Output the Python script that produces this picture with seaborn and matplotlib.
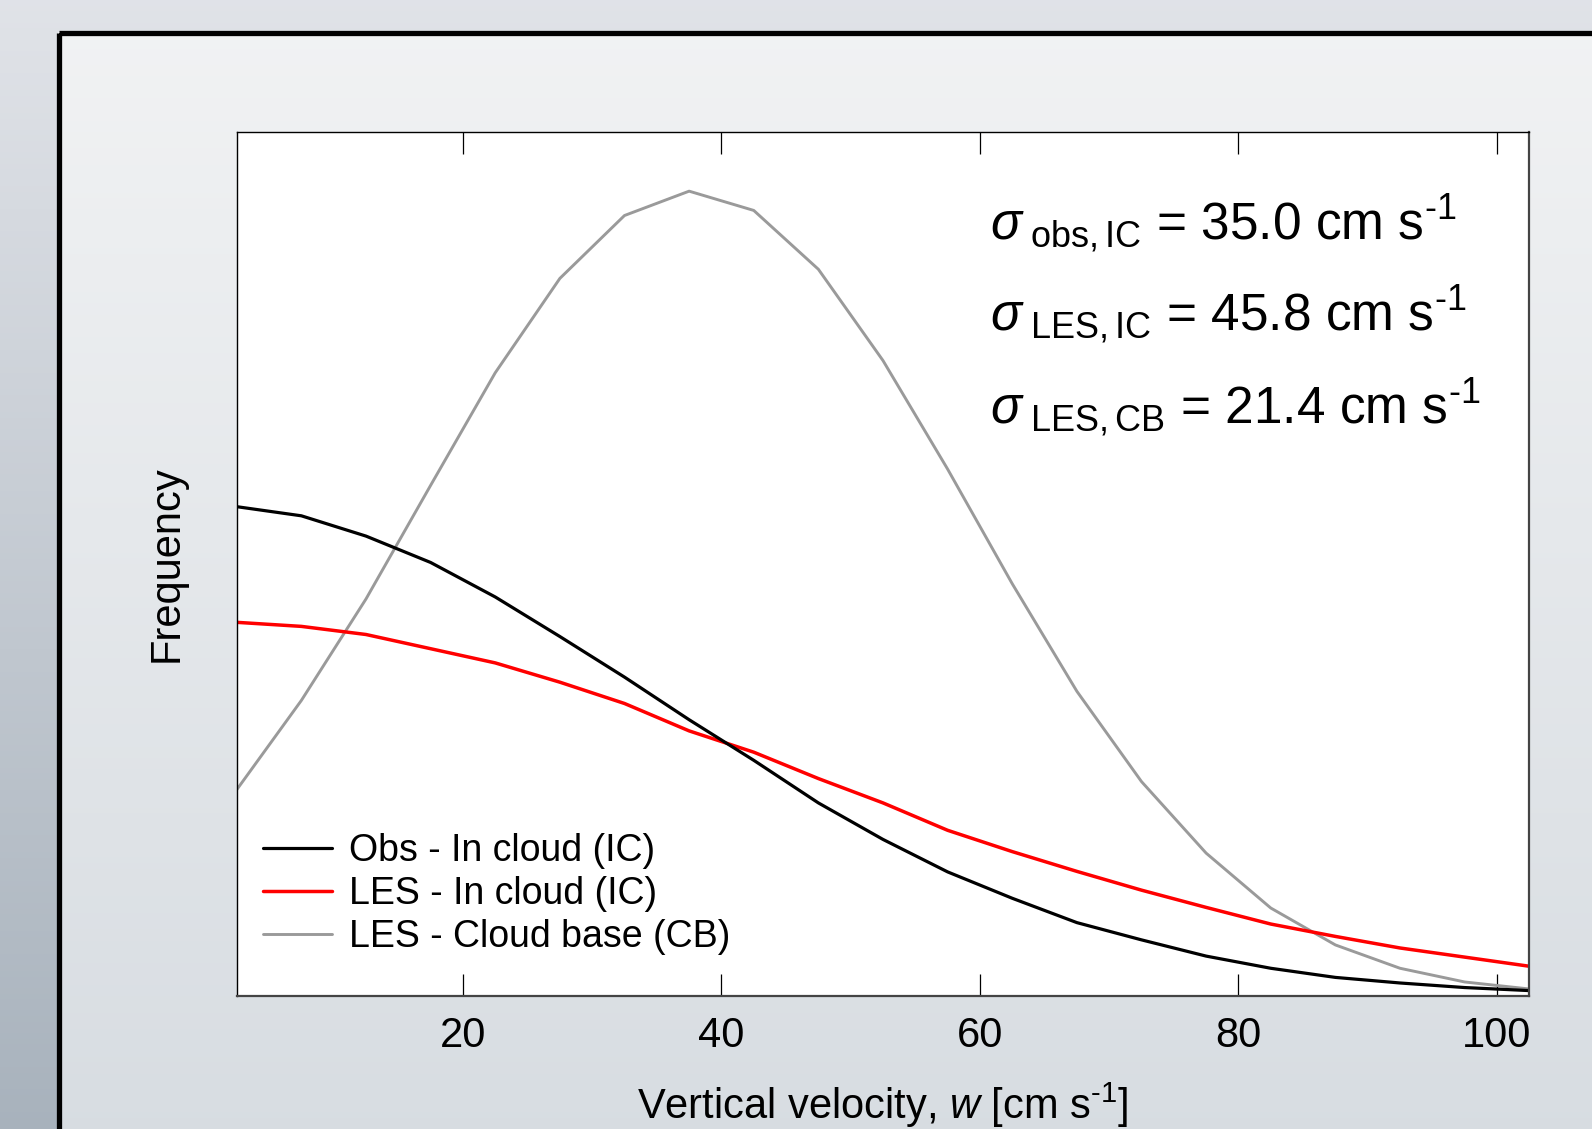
import numpy as np
import pandas as pd
import matplotlib.pyplot as plt
import seaborn as sns
from matplotlib.patches import Rectangle

# Bin centres of vertical velocity [cm s-1]
w_bins = [2.5, 7.5, 12.5, 17.5, 22.5, 27.5, 32.5, 37.5, 42.5, 47.5, 52.5,
          57.5, 62.5, 67.5, 72.5, 77.5, 82.5, 87.5, 92.5, 97.5, 102.5]

# Frequency (arbitrary units)
obs_ic = [482, 473, 453, 427, 393, 354, 314, 272, 232, 190, 154,
          122, 96, 72, 55, 39, 27, 18, 12.5, 8, 5]
les_ic = [368, 364, 356, 342, 328, 309, 288, 261, 240, 214, 190,
          163, 142, 122.5, 104, 87, 70.6, 58.4, 47, 38, 29]
les_cb = [203, 291, 391, 503, 614, 707, 769, 793, 774, 716, 626,
          519, 406, 300, 211, 140.5, 86.4, 50, 27, 13.5, 6.6]

labels = ['Obs - In cloud (IC)', 'LES - In cloud (IC)', 'LES - Cloud base (CB)']
sigma_text = [r'$\mathit{\sigma}_{\ \mathrm{obs,IC}}$ = 35.0 cm s$^{\text{-1}}$',
              r'$\mathit{\sigma}_{\ \mathrm{LES,IC}}$ = 45.8 cm s$^{\text{-1}}$',
              r'$\mathit{\sigma}_{\ \mathrm{LES,CB}}$ = 21.4 cm s$^{\text{-1}}$']
xticks = [20, 40, 60, 80, 100]

df = pd.DataFrame({'w': w_bins * 3,
                   'freq': obs_ic + les_ic + les_cb,
                   'series': [labels[0]] * len(w_bins) + [labels[1]] * len(w_bins) + [labels[2]] * len(w_bins)})

sns.set_style('white')
plt.rcParams['font.family'] = ['Liberation Sans', 'DejaVu Sans']
plt.rcParams['mathtext.fontset'] = 'custom'
plt.rcParams['mathtext.rm'] = 'Liberation Sans'
plt.rcParams['mathtext.it'] = 'Liberation Sans:italic'
plt.rcParams['text.color'] = 'black'
plt.rcParams['axes.labelcolor'] = 'black'

fig = plt.figure(figsize=(15.92, 11.29), dpi=100)

# slide-like background
bg = fig.add_axes([0, 0, 1, 1], zorder=-10)
bg.axis('off')
t = np.linspace(0, 1, 200)[:, None]
outer_top = np.array([0.88, 0.89, 0.91])
outer_bot = np.array([0.66, 0.70, 0.74])
outer = outer_top + (outer_bot - outer_top) * t
outer = np.repeat(outer[:, None, :], 2, axis=1)
bg.imshow(outer, extent=(0, 1592, 1129, 0), aspect='auto')
inner_top = np.array([0.945, 0.950, 0.955])
inner_bot = np.array([0.845, 0.865, 0.885])
inner = inner_top + (inner_bot - inner_top) * t
inner = np.repeat(inner[:, None, :], 2, axis=1)
bg.imshow(inner, extent=(58, 1600, 1140, 32), aspect='auto')
bg.add_patch(Rectangle((58.5, 32.5), 1600, 1200, fill=False, ec='black', lw=3.8))
bg.set_xlim(0, 1592)
bg.set_ylim(1129, 0)

ax = fig.add_axes([0.1487, 0.1181, 0.8119, 0.7647])
ax.set_facecolor('white')

sns.lineplot(data=df[df.series == labels[2]], x='w', y='freq', color='#9a9a9a', lw=2.1, ax=ax, label=labels[2])
sns.lineplot(data=df[df.series == labels[1]], x='w', y='freq', color='#ff0000', lw=2.5, ax=ax, label=labels[1])
sns.lineplot(data=df[df.series == labels[0]], x='w', y='freq', color='black', lw=2.3, ax=ax, label=labels[0])

ax.set_xlim(2.5, 102.5)
ax.set_ylim(0, 851)
ax.set_xticks(xticks)
ax.set_xticklabels([str(v) for v in xticks])
ax.set_yticks([])
ax.tick_params(axis='x', direction='in', length=16, width=0.9, top=True, bottom=True,
               labelsize=30, pad=15, colors='black')
for s in ax.spines.values():
    s.set_visible(True)
    s.set_color('black')
    s.set_linewidth(1.0)
ax.spines['right'].set_color('#444444')
ax.spines['bottom'].set_color('#444444')
ax.spines['right'].set_linewidth(1.6)
ax.spines['bottom'].set_linewidth(1.6)

ax.set_xlabel(r'Vertical velocity, $\mathit{w}$ [cm s$^{\text{-1}}$]', fontsize=30, labelpad=17)
ax.set_ylabel('Frequency', fontsize=30, labelpad=36)

for txt, yy in zip(sigma_text, [0.876, 0.771, 0.663]):
    ax.text(0.583, yy, txt, transform=ax.transAxes, fontsize=37, va='baseline', ha='left')

h, l = ax.get_legend_handles_labels()
order = [l.index(lab) for lab in labels]
leg = ax.legend([h[i] for i in order], [l[i] for i in order], loc='upper left',
                bbox_to_anchor=(0.02, 0.188), frameon=False, fontsize=27,
                handlelength=1.85, handletextpad=0.45, labelspacing=0.18,
                borderpad=0, borderaxespad=0)
for txt in leg.get_texts():
    txt.set_color('black')

fig.savefig('out.png', dpi=100)
